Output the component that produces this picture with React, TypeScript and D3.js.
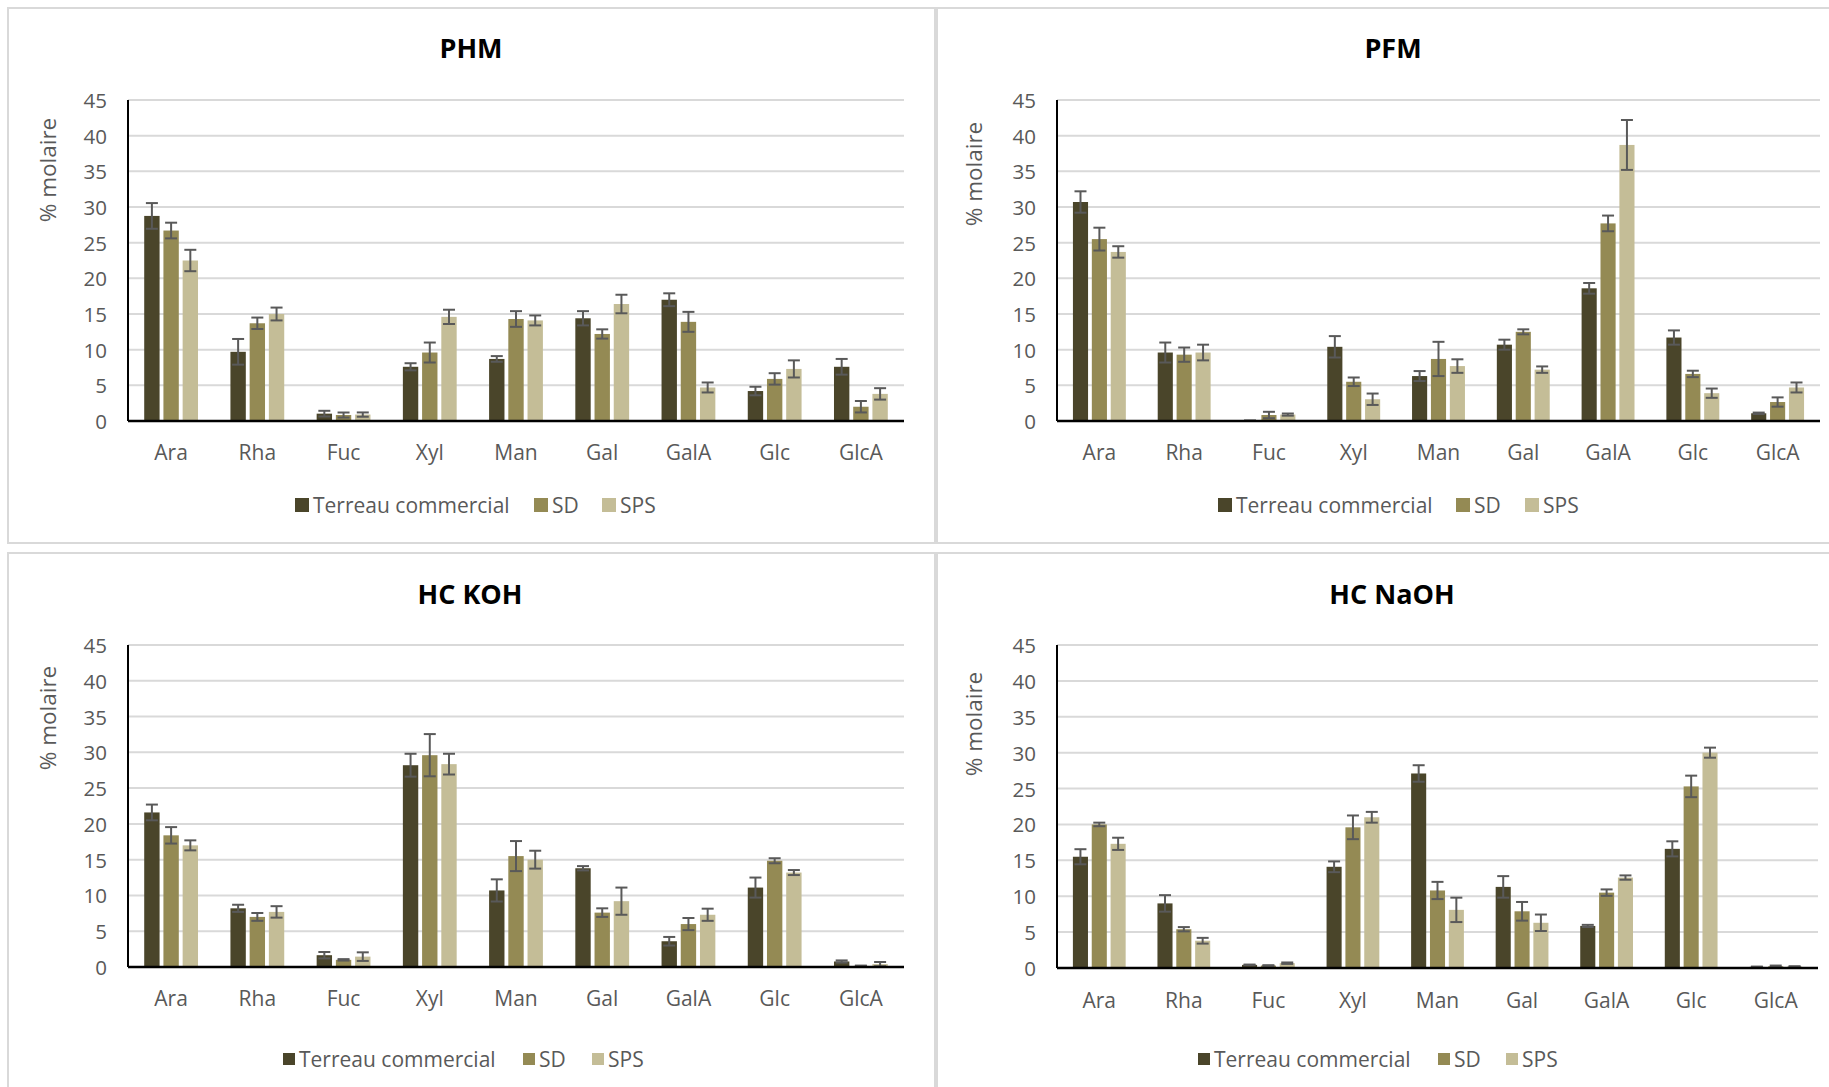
import React from "react";
import * as d3 from "d3";

const categories = ["Ara", "Rha", "Fuc", "Xyl", "Man", "Gal", "GalA", "Glc", "GlcA"];
const seriesNames = ["Terreau commercial", "SD", "SPS"];
const yTicks = [0, 5, 10, 15, 20, 25, 30, 35, 40, 45];

// PHM
const phmTerreau = [28.75, 9.7, 1.03, 7.6, 8.7, 14.4, 17.0, 4.2, 7.6];
const phmTerreauErr = [1.8, 1.8, 0.4, 0.5, 0.4, 1.0, 0.9, 0.6, 1.1];
const phmSD = [26.7, 13.7, 0.84, 9.6, 14.3, 12.2, 13.9, 5.9, 2.0];
const phmSDErr = [1.1, 0.8, 0.35, 1.4, 1.1, 0.65, 1.4, 0.8, 0.8];
const phmSPS = [22.5, 15.0, 0.9, 14.6, 14.1, 16.4, 4.7, 7.3, 3.8];
const phmSPSErr = [1.5, 0.9, 0.3, 1.0, 0.7, 1.3, 0.7, 1.2, 0.8];

// PFM
const pfmTerreau = [30.7, 9.6, 0.05, 10.4, 6.3, 10.7, 18.6, 11.7, 1.08];
const pfmTerreauErr = [1.5, 1.4, 0, 1.5, 0.7, 0.7, 0.75, 1.0, 0.1];
const pfmSD = [25.5, 9.3, 0.84, 5.5, 8.7, 12.5, 27.7, 6.6, 2.66];
const pfmSDErr = [1.6, 1.0, 0.45, 0.6, 2.4, 0.35, 1.1, 0.45, 0.65];
const pfmSPS = [23.7, 9.6, 0.9, 3.05, 7.7, 7.2, 38.7, 3.9, 4.7];
const pfmSPSErr = [0.8, 1.1, 0.15, 0.8, 0.95, 0.45, 3.5, 0.65, 0.7];

// HC KOH
const kohTerreau = [21.6, 8.2, 1.65, 28.2, 10.7, 13.8, 3.6, 11.1, 0.77];
const kohTerreauErr = [1.1, 0.5, 0.45, 1.6, 1.55, 0.3, 0.6, 1.4, 0.15];
const kohSD = [18.4, 7.0, 1.0, 29.6, 15.5, 7.6, 6.0, 14.85, 0.15];
const kohSDErr = [1.15, 0.55, 0.1, 2.95, 2.1, 0.6, 0.85, 0.35, 0.05];
const kohSPS = [17.0, 7.7, 1.45, 28.35, 15.0, 9.2, 7.3, 13.2, 0.4];
const kohSPSErr = [0.7, 0.8, 0.6, 1.45, 1.25, 1.9, 0.85, 0.35, 0.3];

// HC NaOH
const naohTerreau = [15.5, 9.0, 0.43, 14.1, 27.1, 11.3, 5.86, 16.6, 0.15];
const naohTerreauErr = [1.05, 1.15, 0.05, 0.75, 1.15, 1.5, 0.15, 1.05, 0.05];
const naohSD = [20.0, 5.4, 0.34, 19.6, 10.8, 7.9, 10.5, 25.3, 0.24];
const naohSDErr = [0.25, 0.3, 0.05, 1.65, 1.2, 1.3, 0.45, 1.5, 0.1];
const naohSPS = [17.3, 3.8, 0.67, 21.0, 8.1, 6.3, 12.6, 30.0, 0.2];
const naohSPSErr = [0.85, 0.4, 0.1, 0.75, 1.7, 1.15, 0.3, 0.7, 0.05];

const colors = ["#4A452A", "#948A54", "#C4BD97"];
const FONT = "'Open Sans', 'Liberation Sans', sans-serif";

type Layout = {
  title: string;
  bx: number; by: number; bw: number; bh: number;
  x0: number; x1: number; yTop: number; yZero: number;
  titleX: number; titleY: number;
  yTitleX: number; yTitleY: number;
  xLabY: number;
  legY: number; legSq: number; legX: number[];
  values: number[][]; errs: number[][];
};

const panels: Layout[] = [
  {
    title: "PHM", bx: 8, by: 8, bw: 927, bh: 535,
    x0: 128, x1: 904, yTop: 100, yZero: 421,
    titleX: 471, titleY: 47, yTitleX: 47, yTitleY: 170, xLabY: 452,
    legY: 505, legSq: 14, legX: [295, 534, 602],
    values: [phmTerreau, phmSD, phmSPS], errs: [phmTerreauErr, phmSDErr, phmSPSErr],
  },
  {
    title: "PFM", bx: 937, by: 8, bw: 900, bh: 535,
    x0: 1057, x1: 1820, yTop: 100, yZero: 421,
    titleX: 1393, titleY: 47, yTitleX: 973, yTitleY: 174, xLabY: 452,
    legY: 505, legSq: 14, legX: [1218, 1456, 1525],
    values: [pfmTerreau, pfmSD, pfmSPS], errs: [pfmTerreauErr, pfmSDErr, pfmSPSErr],
  },
  {
    title: "HC KOH", bx: 8, by: 553, bw: 927, bh: 545,
    x0: 128, x1: 904, yTop: 645, yZero: 967,
    titleX: 470, titleY: 593, yTitleX: 47, yTitleY: 718, xLabY: 998,
    legY: 1059, legSq: 12, legX: [283, 523, 592],
    values: [kohTerreau, kohSD, kohSPS], errs: [kohTerreauErr, kohSDErr, kohSPSErr],
  },
  {
    title: "HC NaOH", bx: 937, by: 553, bw: 900, bh: 545,
    x0: 1057, x1: 1818, yTop: 645, yZero: 968,
    titleX: 1392, titleY: 593, yTitleX: 973, yTitleY: 724, xLabY: 1000,
    legY: 1059, legSq: 12, legX: [1198, 1438, 1506],
    values: [naohTerreau, naohSD, naohSPS], errs: [naohTerreauErr, naohSDErr, naohSPSErr],
  },
];

function Panel({ p }: { p: Layout }) {
  const x = d3.scaleBand<string>().domain(categories).range([p.x0, p.x1]).paddingInner(0).paddingOuter(0);
  const y = d3.scaleLinear().domain([0, 45]).range([p.yZero, p.yTop]);
  const bw = x.bandwidth();
  const inner = d3
    .scaleBand<string>()
    .domain(seriesNames)
    .range([-0.312 * bw, 0.312 * bw])
    .paddingInner(0.2)
    .paddingOuter(0);
  const barW = inner.bandwidth();
  const cap = 6;
  return (
    <g>
      <rect x={p.bx} y={p.by} width={p.bw} height={p.bh} fill="#fff" stroke="#d9d9d9" strokeWidth={2} />
      <text x={p.titleX} y={p.titleY} textAnchor="middle" dominantBaseline="central" fontFamily={FONT} fontWeight={700} fontSize={27} fill="#000">
        {p.title}
      </text>
      {yTicks.map((t) => (
        <g key={t}>
          {t > 0 && <line x1={p.x0} x2={p.x1} y1={y(t)} y2={y(t)} stroke="#d9d9d9" strokeWidth={2} />}
          <text x={p.x0 - 21} y={y(t)} textAnchor="end" dominantBaseline="central" fontFamily={FONT} fontSize={20.5} fill="#595959">
            {t}
          </text>
        </g>
      ))}
      <text
        transform={`translate(${p.yTitleX},${p.yTitleY}) rotate(-90)`}
        textAnchor="middle"
        dominantBaseline="central"
        fontFamily={FONT}
        fontSize={22.5}
        fill="#595959"
      >
        % molaire
      </text>
      {categories.map((c, ci) => {
        const cx = (x(c) as number) + bw / 2;
        return (
          <g key={c}>
            {seriesNames.map((s, si) => {
              const v = p.values[si][ci];
              const e = p.errs[si][ci];
              const bx = cx + (inner(s) as number);
              const mid = bx + barW / 2;
              return (
                <g key={s}>
                  <rect x={bx} y={y(v)} width={barW} height={p.yZero - y(v)} fill={colors[si]} />
                  <line x1={mid} x2={mid} y1={y(v + e)} y2={y(Math.max(0, v - e))} stroke="#595959" strokeWidth={2} />
                  <line x1={mid - cap} x2={mid + cap} y1={y(v + e)} y2={y(v + e)} stroke="#595959" strokeWidth={2} />
                  <line x1={mid - cap} x2={mid + cap} y1={y(Math.max(0, v - e))} y2={y(Math.max(0, v - e))} stroke="#595959" strokeWidth={2} />
                </g>
              );
            })}
            <text x={cx} y={p.xLabY} textAnchor="middle" dominantBaseline="central" fontFamily={FONT} fontSize={21} fill="#595959">
              {c}
            </text>
          </g>
        );
      })}
      <line x1={p.x0} x2={p.x0} y1={p.yTop} y2={p.yZero} stroke="#000" strokeWidth={2} />
      <line x1={p.x0} x2={p.x1} y1={p.yZero} y2={p.yZero} stroke="#000" strokeWidth={2.5} />
      {seriesNames.map((s, si) => (
        <g key={s}>
          <rect x={p.legX[si]} y={p.legY - p.legSq / 2} width={p.legSq} height={p.legSq} fill={colors[si]} />
          <text x={p.legX[si] + p.legSq + 4} y={p.legY} dominantBaseline="central" fontFamily={FONT} fontSize={21} fill="#595959">
            {s}
          </text>
        </g>
      ))}
    </g>
  );
}

export default function App() {
  return (
    <svg
      width={1829}
      height={1087}
      viewBox="0 0 1829 1087"
      style={{ position: "absolute", left: 0, top: 0, background: "#fff" }}
    >
      <rect x={0} y={0} width={1829} height={1087} fill="#fff" />
      {panels.map((p) => (
        <Panel key={p.title} p={p} />
      ))}
    </svg>
  );
}
